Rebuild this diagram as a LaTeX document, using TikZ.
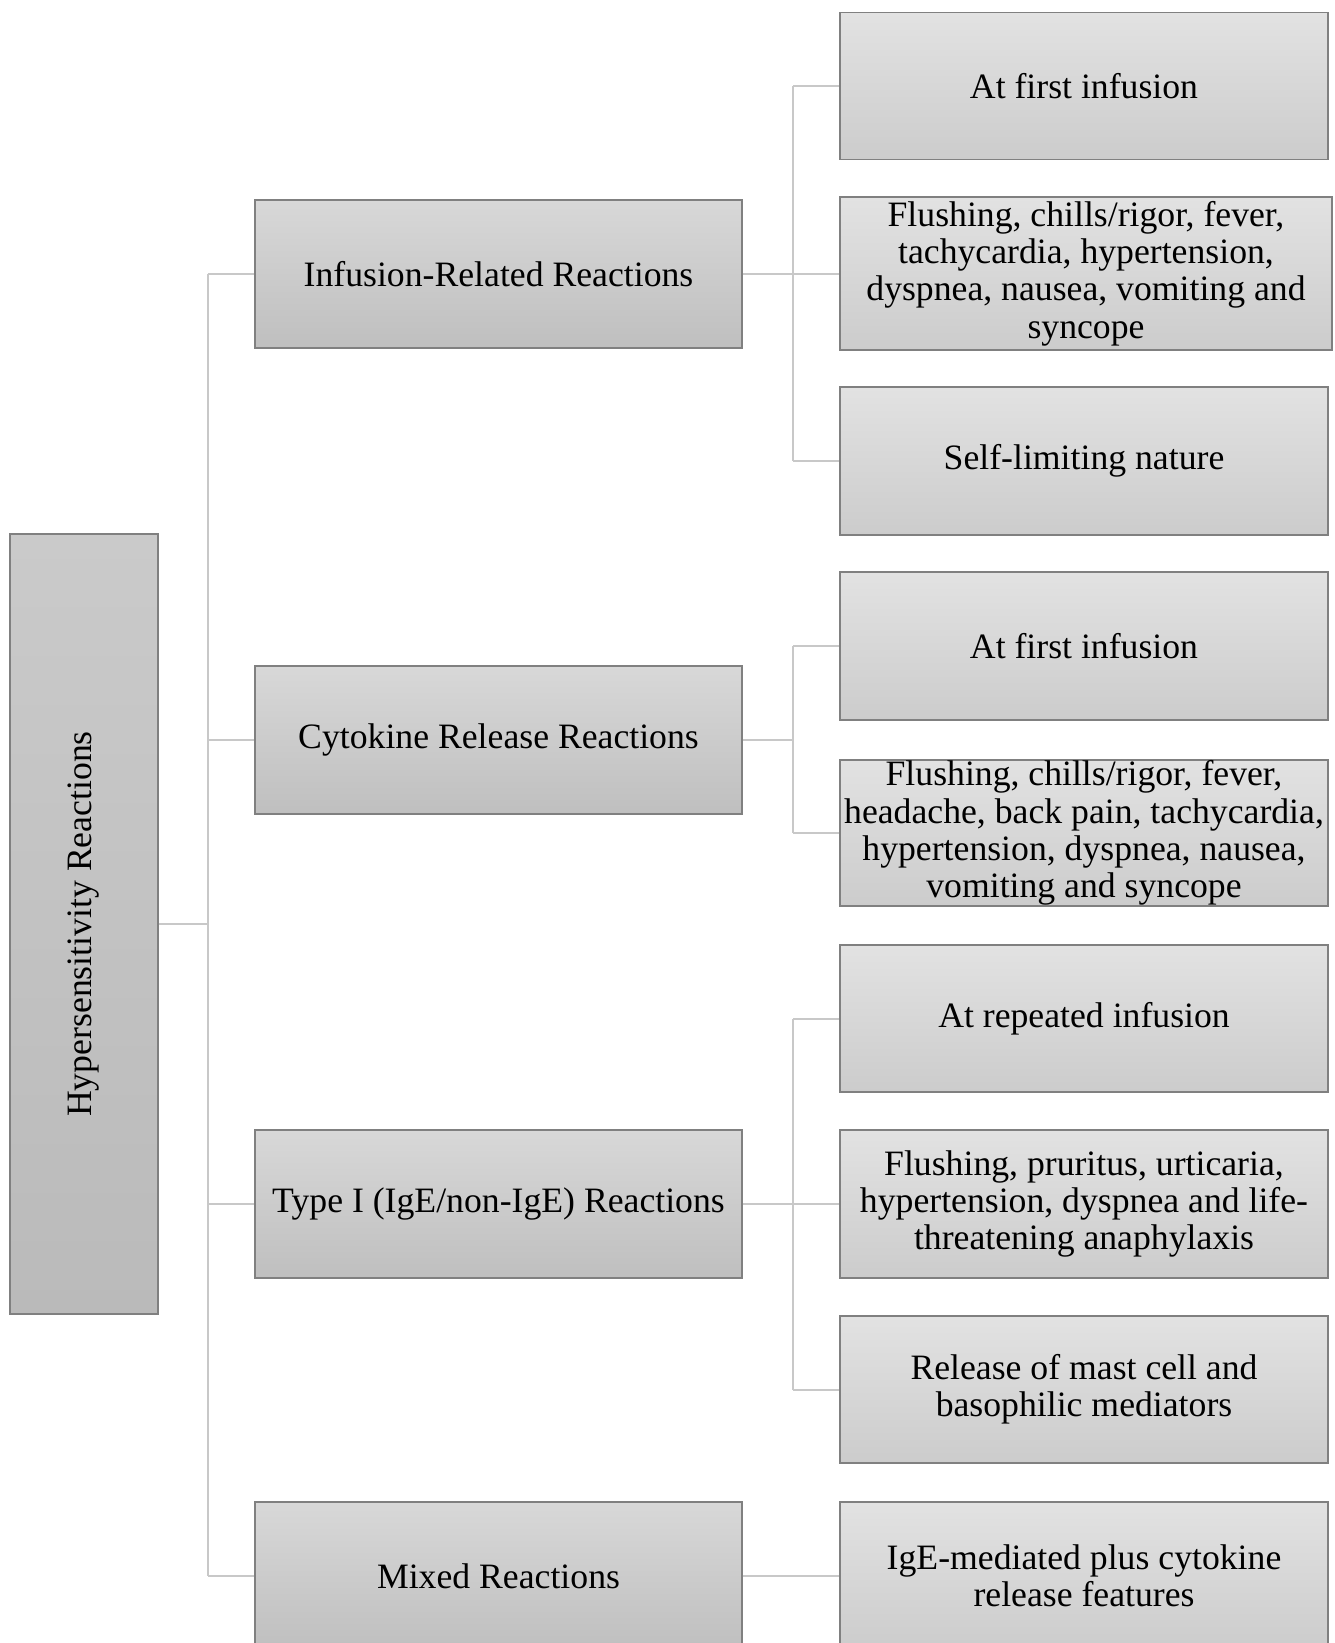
\documentclass[tikz,border=0pt]{standalone}
\usepackage{fontspec}
\setmainfont{Liberation Serif}
\usetikzlibrary{calc}
\definecolor{bordergray}{HTML}{808080}
\definecolor{linegray}{HTML}{C8C8C8}
\tikzset{
  txt/.style={font=\fontsize{35.7}{37.4}\selectfont, align=center, text=black},
  boxbase/.style={txt, rectangle, draw=bordergray, line width=1.5pt, inner sep=0pt, shading=axis},
  rootbox/.style={boxbase, minimum width=148pt, minimum height=780pt, top color={rgb,255:red,202;green,202;blue,202}, bottom color={rgb,255:red,186;green,186;blue,186}},
  midbox/.style={boxbase, minimum width=487pt, minimum height=148pt, top color={rgb,255:red,216;green,216;blue,216}, bottom color={rgb,255:red,191;green,191;blue,191}},
  leafbox/.style={boxbase, minimum width=488pt, minimum height=147pt, top color={rgb,255:red,226;green,226;blue,226}, bottom color={rgb,255:red,204;green,204;blue,204}},
  conn/.style={draw=linegray, line width=2pt}
}
\begin{document}
\begin{tikzpicture}[x=1pt,y=-1pt]
\useasboundingbox (0,0) rectangle (1335,1643);
\clip (0,0) rectangle (1335,1643);
% root
\node[rootbox] (root) at (84,924) {};
\node[txt, rotate=90] (roottxt) at (root.center) {Hypersensitivity Reactions};
% level 1
\node[midbox] (irr) at (498.5,274) {Infusion-Related Reactions};
\node[midbox] (crr) at (498.5,740) {Cytokine Release Reactions};
\node[midbox] (t1) at (498.5,1204) {Type I (IgE/non-IgE) Reactions};
\node[midbox] (mix) at (498.5,1576) {Mixed Reactions};
% level 2
\node[leafbox] (a1) at (1084,86) {At first infusion};
\node[leafbox, minimum width=492pt, minimum height=153pt] (a2) at (1086,273.5) {Flushing, chills/rigor, fever,\\ tachycardia, hypertension,\\ dyspnea, nausea, vomiting and\\ syncope};
\node[leafbox, minimum height=148pt] (a3) at (1084,461) {Self-limiting nature};
\node[leafbox, minimum height=148pt] (b1) at (1084,646) {At first infusion};
\node[leafbox, minimum height=146pt] (b2) at (1084,833) {Flushing, chills/rigor, fever,\\ headache, back pain, tachycardia,\\ hypertension, dyspnea, nausea,\\ vomiting and syncope};
\node[leafbox] (c1) at (1084,1018.5) {At repeated infusion};
\node[leafbox, minimum height=148pt] (c2) at (1084,1204) {Flushing, pruritus, urticaria,\\ hypertension, dyspnea and life-\\ threatening anaphylaxis};
\node[leafbox] (c3) at (1084,1389.5) {Release of mast cell and\\ basophilic mediators};
\node[leafbox, minimum height=148pt] (d1) at (1084,1576) {IgE-mediated plus cytokine\\ release features};
% connector coordinates
\coordinate (tr) at (207.5,0);
\coordinate (br) at (793,0);
% root to level 1
\draw[conn] (root.east) -- (root.east -| tr);
\draw[conn] (tr |- irr.west) -- (tr |- mix.west);
\draw[conn] (tr |- irr.west) -- (irr.west);
\draw[conn] (tr |- crr.west) -- (crr.west);
\draw[conn] (tr |- t1.west) -- (t1.west);
\draw[conn] (tr |- mix.west) -- (mix.west);
% IRR branch
\draw[conn] (irr.east) -- (irr.east -| br);
\draw[conn] (br |- a1.west) -- (br |- a3.west);
\draw[conn] (br |- a1.west) -- (a1.west);
\draw[conn] (br |- a2.west) -- (a2.west);
\draw[conn] (br |- a3.west) -- (a3.west);
% CRR branch
\draw[conn] (crr.east) -- (crr.east -| br);
\draw[conn] (br |- b1.west) -- (br |- b2.west);
\draw[conn] (br |- b1.west) -- (b1.west);
\draw[conn] (br |- b2.west) -- (b2.west);
% Type I branch
\draw[conn] (t1.east) -- (t1.east -| br);
\draw[conn] (br |- c1.west) -- (br |- c3.west);
\draw[conn] (br |- c1.west) -- (c1.west);
\draw[conn] (br |- c2.west) -- (c2.west);
\draw[conn] (br |- c3.west) -- (c3.west);
% Mixed
\draw[conn] (mix.east) -- (d1.west);
\end{tikzpicture}
\end{document}
